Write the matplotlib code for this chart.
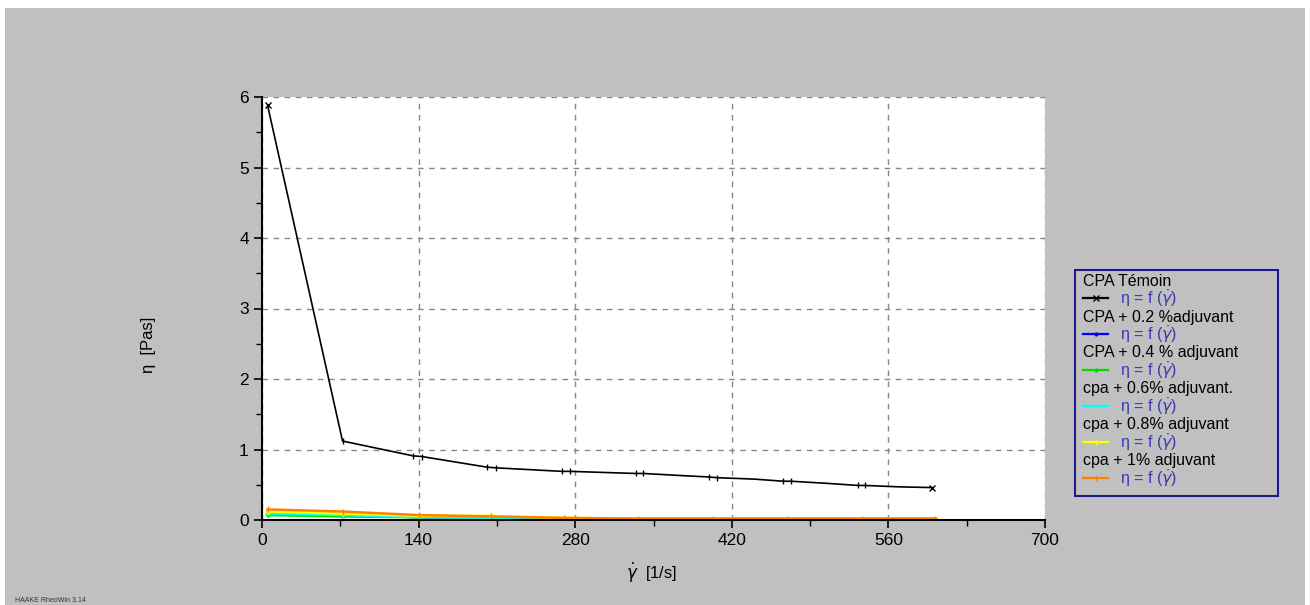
import matplotlib
matplotlib.use("Agg")
import matplotlib.pyplot as plt
from matplotlib.lines import Line2D
from matplotlib.patches import Rectangle
from matplotlib.ticker import MultipleLocator

plt.rcParams['font.family'] = ['Liberation Sans', 'DejaVu Sans']

# shear rate [1/s] and viscosity [Pas]
x_temoin = [5, 72, 135, 143, 201, 209, 268, 275, 334, 341, 375, 400, 407, 440, 466, 473, 505, 533, 539, 570, 599]
y_temoin = [5.88, 1.12, 0.91, 0.90, 0.75, 0.74, 0.69, 0.69, 0.66, 0.66, 0.63, 0.61, 0.60, 0.58, 0.55, 0.55, 0.52, 0.49, 0.49, 0.47, 0.46]
marked = [1, 2, 3, 4, 5, 6, 7, 8, 9, 11, 12, 14, 15, 17, 18]

x_low = [5, 72, 140, 205, 270, 336, 403, 469, 536, 602]
y_02 = [0.11, 0.07, 0.04, 0.03, 0.02, 0.02, 0.02, 0.02, 0.02, 0.02]
y_04 = [0.07, 0.05, 0.04, 0.03, 0.02, 0.02, 0.02, 0.02, 0.02, 0.02]
y_06 = [0.09, 0.07, 0.04, 0.03, 0.02, 0.02, 0.02, 0.02, 0.02, 0.02]
y_08 = [0.12, 0.09, 0.06, 0.06, 0.03, 0.02, 0.02, 0.02, 0.02, 0.02]
y_1 = [0.15, 0.12, 0.07, 0.05, 0.03, 0.02, 0.02, 0.02, 0.02, 0.02]

names = ["CPA Témoin", "CPA + 0.2 %adjuvant", "CPA + 0.4 % adjuvant",
         "cpa + 0.6% adjuvant.", "cpa + 0.8% adjuvant", "cpa + 1% adjuvant"]
colors = ["black", "#0000ff", "#00dd00", "#00ffff", "#ffff00", "#ff8000"]
markers = ["x", ".", ".", "_", "+", "|"]

fig = plt.figure(figsize=(13.1, 6.05), dpi=100, facecolor="white")
fig.add_artist(Rectangle((5 / 1310, 0), 1300 / 1310, 597 / 605, transform=fig.transFigure,
                         facecolor="#c0c0c0", edgecolor="none", zorder=-10))

ax = fig.add_axes([262 / 1310, 85 / 605, 783 / 1310, 423 / 605])
ax.set_facecolor("white")

series = [y_02, y_04, y_06, y_08, y_1]
for ys, c, m in zip(series, colors[1:], markers[1:]):
    ax.plot(x_low, ys, color=c, lw=1.8, marker=m, ms=4)
ax.plot(x_temoin, y_temoin, color="black", lw=1.2, marker="|", ms=5, markevery=marked)
ax.plot([x_temoin[0], x_temoin[-1]], [y_temoin[0], y_temoin[-1]], ls="none", marker="x", ms=4, color="black")

ax.set_xlim(0, 700)
ax.set_ylim(0, 6)
ax.xaxis.set_major_locator(MultipleLocator(140))
ax.xaxis.set_minor_locator(MultipleLocator(70))
ax.yaxis.set_major_locator(MultipleLocator(1))
ax.yaxis.set_minor_locator(MultipleLocator(0.5))
ax.tick_params(which="major", direction="out", length=6, width=1.2, labelsize=12.5, colors="black")
ax.tick_params(which="minor", direction="out", length=4, width=1)
ax.grid(True, which="major", ls=(0, (4, 4)), color="#888888", lw=1)
for s in ["top", "right"]:
    ax.spines[s].set_visible(False)
for s in ["left", "bottom"]:
    ax.spines[s].set_linewidth(1.5)

fig.text(148 / 1310, 1 - 345 / 605, "η  [Pas]", rotation=90, ha="center", va="center", fontsize=12)
fig.text(652 / 1310, 1 - 573 / 605, r"$\dot{\gamma}$  [1/s]", ha="center", va="center", fontsize=12)
fig.text(15 / 1310, 1 - 600 / 605, "HAAKE RheoWin 3.14", fontsize=5, color="#333333", va="center")

# legend box
fig.add_artist(Rectangle((1075 / 1310, 1 - 496 / 605), 203 / 1310, 226 / 605, transform=fig.transFigure,
                         facecolor="none", edgecolor="#1a1a8c", lw=1.5))
for i, (n, c, m) in enumerate(zip(names, colors, markers)):
    yt = 1 - (281 + 36 * i) / 605
    yl = 1 - (298 + 36 * i) / 605
    fig.text(1083 / 1310, yt, n, fontsize=11.5, va="center", ha="left")
    fig.add_artist(Line2D([1083 / 1310, 1108 / 1310], [yl, yl], color=c, lw=1.6, transform=fig.transFigure))
    fig.add_artist(Line2D([1096 / 1310], [yl], color=c, marker=m, ms=4, transform=fig.transFigure))
    fig.text(1120 / 1310, yl, r"η = f ($\dot{\gamma}$)", fontsize=11.5, va="center", ha="left", color="#3a3ab0")

fig.savefig("out.png", dpi=100, facecolor=fig.get_facecolor())
